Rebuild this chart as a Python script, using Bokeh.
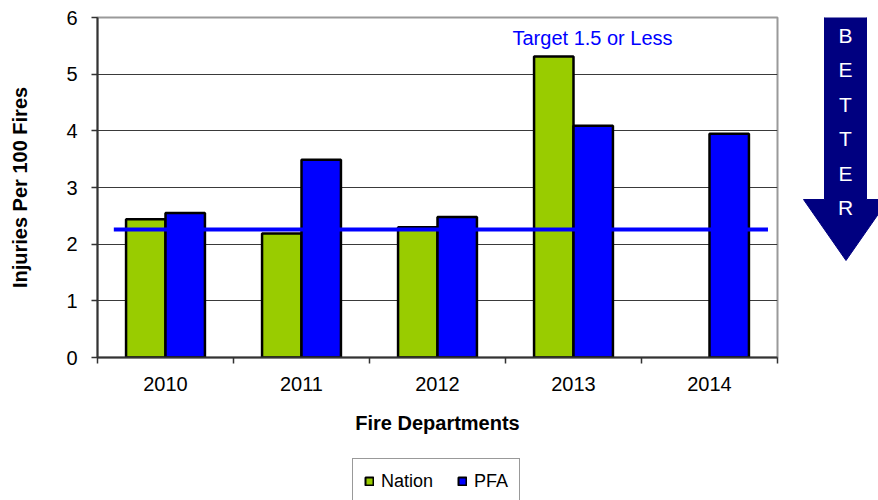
from bokeh.plotting import figure
from bokeh.models import Range1d, FixedTicker, Legend, LegendItem, Label, ColumnDataSource
from bokeh.layouts import row, column
from bokeh.embed import file_html
from bokeh.resources import INLINE

# ---- data ----
years = ["2010", "2011", "2012", "2013", "2014"]
nation = [2.44, 2.19, 2.30, 5.31, None]
pfa = [2.55, 3.49, 2.48, 4.09, 3.95]
target = 2.26
target_label = "Target 1.5 or Less"
y_ticks = [0, 1, 2, 3, 4, 5, 6]
series_names = ["Nation", "PFA"]
arrow_letters = ["B", "E", "T", "T", "E", "R"]

FONT = "Liberation Sans"
GREEN = "#99CC00"
BLUE = "#0000FF"
NAVY = "#000080"

BAR_W = 0.29
centers = [i + 0.5 for i in range(len(years))]

nat_src = ColumnDataSource(dict(
    x=[c - BAR_W / 2 for c, v in zip(centers, nation) if v is not None],
    top=[v for v in nation if v is not None]))
pfa_src = ColumnDataSource(dict(
    x=[c + BAR_W / 2 for c, v in zip(centers, pfa) if v is not None],
    top=[v for v in pfa if v is not None]))

TOP_H = 452  # height of the chart row; legend strip takes the rest of 500

p = figure(width=780, height=TOP_H, output_backend="svg", toolbar_location=None,
           x_range=Range1d(0, len(years)), y_range=Range1d(0, 6),
           min_border_left=97, min_border_right=3, min_border_top=17,
           min_border_bottom=TOP_H - 357)
p.background_fill_color = "white"
p.border_fill_color = "white"
p.outline_line_color = "#9a9a9a"
p.outline_line_width = 2

# grid
p.xgrid.visible = False
p.ygrid.ticker = FixedTicker(ticks=y_ticks[1:-1])
p.ygrid.grid_line_color = "#3a3a3a"
p.ygrid.grid_line_width = 1

# bars
bar_style = dict(bottom=0, width=BAR_W, line_color="black", line_width=2.5)
r_nat = p.vbar(x="x", top="top", source=nat_src, fill_color=GREEN, **bar_style)
r_pfa = p.vbar(x="x", top="top", source=pfa_src, fill_color=BLUE, **bar_style)

# target line
p.segment(x0=[0.12], y0=[target], x1=[4.93], y1=[target],
          line_color=BLUE, line_width=4)
p.add_layout(Label(x=3.64, y=5.64, text=target_label, text_align="center",
                   text_baseline="middle", text_color=BLUE,
                   text_font=FONT, text_font_size="20px"))

# x axis
xa = p.xaxis[0]
xa.ticker = FixedTicker(ticks=centers, minor_ticks=list(range(len(years) + 1)))
xa.major_label_overrides = {c: y for c, y in zip(centers, years)}
xa.major_tick_out = 0
xa.major_tick_in = 0
xa.minor_tick_out = 6
xa.minor_tick_in = 0
xa.minor_tick_line_color = "#333333"
xa.minor_tick_line_width = 1.5
xa.axis_line_color = "#333333"
xa.axis_line_width = 2
xa.major_label_text_font = FONT
xa.major_label_text_font_size = "20px"
xa.major_label_text_color = "black"
xa.major_label_standoff = 13
xa.axis_label = "Fire Departments"
xa.axis_label_text_font = FONT
xa.axis_label_text_font_size = "20px"
xa.axis_label_text_font_style = "bold"
xa.axis_label_text_color = "black"
xa.axis_label_standoff = 18

# y axis
ya = p.yaxis[0]
ya.ticker = FixedTicker(ticks=y_ticks)
ya.minor_tick_line_color = None
ya.major_tick_out = 6
ya.major_tick_in = 0
ya.major_tick_line_color = "#333333"
ya.major_tick_line_width = 1.5
ya.axis_line_color = "#333333"
ya.axis_line_width = 2
ya.major_label_text_font = FONT
ya.major_label_text_font_size = "20px"
ya.major_label_text_color = "black"
ya.major_label_standoff = 14
ya.axis_label = "Injuries Per 100 Fires"
ya.axis_label_text_font = FONT
ya.axis_label_text_font_size = "20px"
ya.axis_label_text_font_style = "bold"
ya.axis_label_text_color = "black"
ya.axis_label_standoff = 32

# ---- "BETTER" arrow (screen-pixel coordinates of its own small figure) ----
a = figure(width=98, height=TOP_H, output_backend="svg", toolbar_location=None,
           x_range=Range1d(780, 878), y_range=Range1d(357, 17),
           x_axis_type=None, y_axis_type=None,
           min_border_left=0, min_border_right=0, min_border_top=17,
           min_border_bottom=TOP_H - 357)
a.outline_line_color = None
a.xgrid.visible = False
a.ygrid.visible = False
a.patch(x=[824, 866, 866, 888, 845.5, 803, 824, 824],
        y=[14, 14, 199, 199, 260, 199, 199, 14],
        fill_color=NAVY, line_color=NAVY, line_width=1)
a.text(x=[845] * len(arrow_letters),
       y=[35 + 34.4 * i for i in range(len(arrow_letters))],
       text=arrow_letters, text_color="white", text_align="center",
       text_baseline="middle", text_font={"value": FONT},
       text_font_size="21px")

# ---- legend strip below the chart ----
lg = figure(width=878, height=500 - TOP_H, output_backend="svg", toolbar_location=None,
            x_range=Range1d(0, 1), y_range=Range1d(0, 1),
            x_axis_type=None, y_axis_type=None,
            min_border_left=97, min_border_right=101, min_border_top=0,
            min_border_bottom=0)
lg.outline_line_color = None
lg.xgrid.visible = False
lg.ygrid.visible = False
# legend swatches: tiny marks hidden behind the legend box, shown only in the legend
d_nat = lg.vbar(x=[0.5], top=[0.51], bottom=0.5, width=0.001, fill_color=GREEN,
                line_color="black", line_width=2)
d_pfa = lg.vbar(x=[0.5], top=[0.51], bottom=0.5, width=0.001, fill_color=BLUE,
                line_color="black", line_width=2)
legend = Legend(items=[LegendItem(label=series_names[0], renderers=[d_nat]),
                       LegendItem(label=series_names[1], renderers=[d_pfa])],
                orientation="horizontal", location=(255, -4),
                label_text_font=FONT, label_text_font_size="18px",
                label_text_color="black",
                glyph_width=10, glyph_height=10, label_standoff=7,
                label_height=22, spacing=24, padding=11, margin=0,
                border_line_color="#333333", border_line_width=1,
                background_fill_color="white", background_fill_alpha=1)
lg.add_layout(legend, "center")

layout = column(row(p, a, spacing=0), lg, spacing=0)
open("out.html", "w").write(file_html(layout, INLINE))
